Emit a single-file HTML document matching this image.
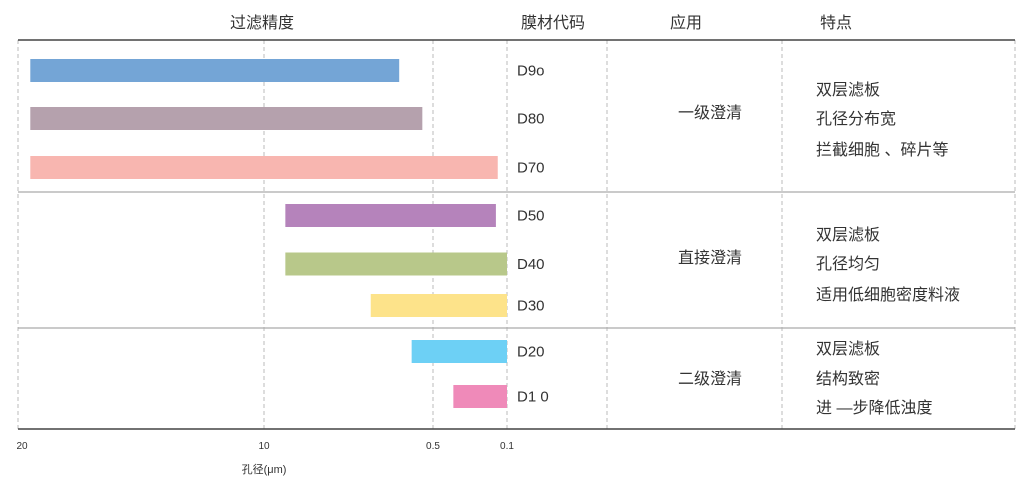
<!DOCTYPE html>
<html><head><meta charset="utf-8"><style>
body{margin:0;background:#fff;}
svg text{font-family:"Liberation Sans","Noto Sans CJK SC",sans-serif;fill:#333;}
</style></head><body>
<svg width="1029" height="482" viewBox="0 0 1029 482">
<g id="grid"></g>
<g id="bars"></g>
<g id="labels"></g>
<text x="262" y="28" font-size="16" text-anchor="middle">过滤精度</text>
<text x="553" y="28" font-size="16" text-anchor="middle">膜材代码</text>
<text x="686" y="28" font-size="16" text-anchor="middle">应用</text>
<text x="836" y="28" font-size="16" text-anchor="middle">特点</text>
<text x="264" y="473" font-size="11" text-anchor="middle">孔径(μm)</text>
</svg>
<script>
const categories=["D9o","D80","D70","D50","D40","D30","D20","D1 0"];
const barStart=[19.5,19.5,19.5,8.8,8.8,4.0,1.7,0.39];
const barEnd=[2.4,1.1,0.15,0.16,0.1,0.1,0.1,0.1];
const colors=["#74a5d6","#b5a1ad","#f8b6b0","#b583bb","#b8c88a","#fde38a","#6dd0f5","#ef8ab9"];
const tickValues=[20,10,0.5,0.1];
const tickLabels=["20","10","0.5","0.1"];
const groupNames=["一级澄清","直接澄清","二级澄清"];
const groupFeatures=[["双层滤板","孔径分布宽","拦截细胞 、碎片等"],["双层滤板","孔径均匀","适用低细胞密度料液"],["双层滤板","结构致密","进 —步降低浊度"]];
const NS="http://www.w3.org/2000/svg";
const tickPx=[18,264,433,507];
function x(v){for(let i=0;i<tickValues.length-1;i++){const a=tickValues[i],b=tickValues[i+1];if(v<=a&&v>=b)return tickPx[i]+(a-v)/(a-b)*(tickPx[i+1]-tickPx[i]);}return v>20?18:507;}
const rowY=[70.5,118.5,167.5,215.5,264,305.5,351.5,396.5];
function y(i){return rowY[i];}
function mk(t,a,p){const e=document.createElementNS(NS,t);for(const k in a)e.setAttribute(k,a[k]);p.appendChild(e);return e;}
const grid=document.getElementById('grid'),bars=document.getElementById('bars'),lab=document.getElementById('labels');
[18,264,433,507,607,782,1015].forEach(px=>{const l=mk('line',{x1:px,x2:px,y1:40,y2:429,stroke:'#bbb','stroke-dasharray':'4,3'},grid);

});
[[40,'#444',1.5],[192,'#aaa',1.2],[328,'#aaa',1.2],[429,'#444',1.5]].forEach(r=>{const l=mk('line',{x1:18,x2:1015,y1:r[0],y2:r[0],stroke:r[1],'stroke-width':r[2]},grid);

});
tickValues.forEach((v,i)=>{const t=mk('text',{x:x(v)+(i==0?4:0),y:449,'font-size':10,'text-anchor':'middle'},lab);t.textContent=tickLabels[i];

});
categories.forEach((c,i)=>{const x0=x(barStart[i]),x1=x(barEnd[i]);
const r=mk('rect',{x:x0,y:y(i)-11.5,width:x1-x0,height:23,fill:colors[i]},bars);


const t=mk('text',{x:517,y:y(i)+5,'font-size':15},lab);t.textContent=c;

});
const gy=[118,263,384],fy=[[95,124,155],[240,269,300],[354,384,413]];
groupNames.forEach((g,i)=>{const t=mk('text',{x:710,y:gy[i],'font-size':16,'text-anchor':'middle'},lab);t.textContent=g;


groupFeatures[i].forEach((f,j)=>{const u=mk('text',{x:816,y:fy[i][j],'font-size':16},lab);u.textContent=f;

});});
</script>
</body></html>
